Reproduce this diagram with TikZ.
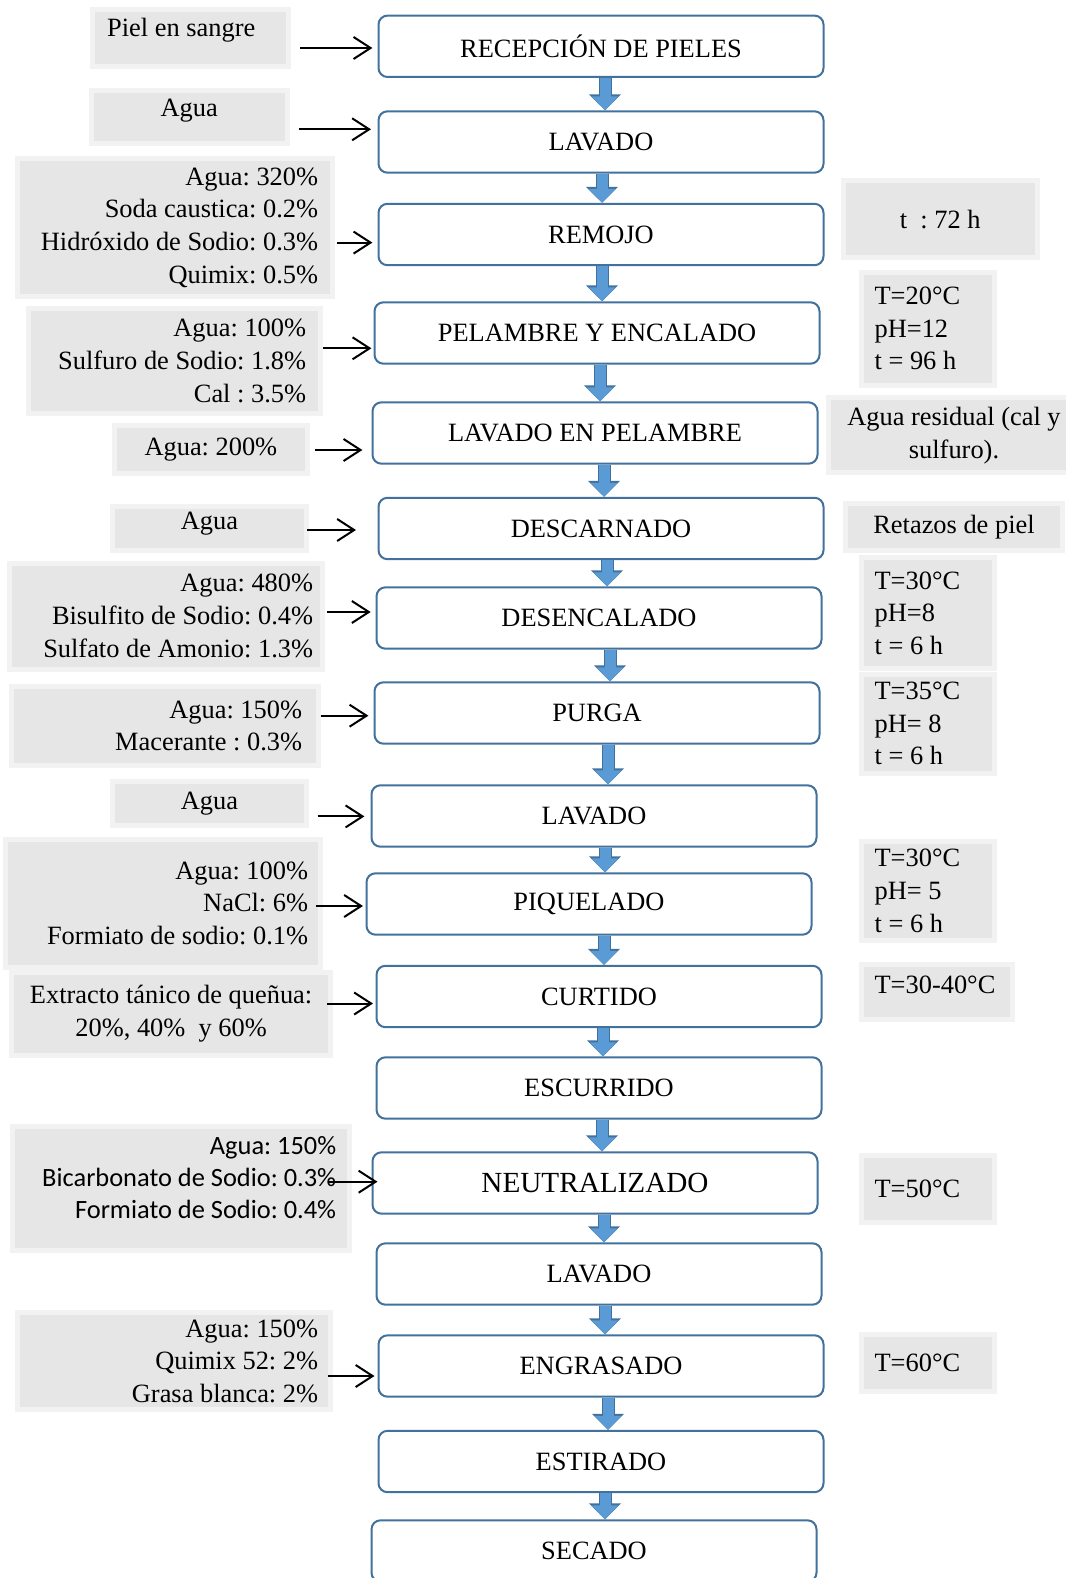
\documentclass[tikz,border=0pt]{standalone}
\usepackage{fontspec}
\setmainfont{Liberation Serif}
\newfontfamily\calibri{Carlito}
\usetikzlibrary{arrows.meta}
\definecolor{bordeazul}{HTML}{41719C}
\definecolor{azul}{HTML}{5B9BD5}
\definecolor{gris}{HTML}{E6E6E6}
\definecolor{grisclaro}{HTML}{F2F2F2}
\tikzset{
  etapa/.style={draw=bordeazul, line width=1pt, rounded corners=4.5pt, fill=white,
    minimum width=222.5pt, minimum height=30.7pt, inner sep=0pt,
    font=\fontsize{13.2}{16.3}\selectfont},
  gris/.style={fill=gris, inner ysep=0pt, preaction={draw=grisclaro, line width=5pt},
    font=\fontsize{13.2}{16.3}\selectfont\frenchspacing},
  insumo/.style={gris, align=flush right},
  cond/.style={gris, align=flush left, inner xsep=5.5pt},
  entra/.style={line width=1pt, -{Straight Barb[length=8.5pt,width=11pt]}},
  baja/.style={draw=azul, line width=5.5pt, -{Triangle[length=7pt,width=13pt]},
    preaction={draw=bordeazul, line width=6.5pt, -{Triangle[length=8pt,width=15.5pt]}}}
}
\begin{document}
\begin{tikzpicture}[x=0.5pt, y=-0.5pt]
  \useasboundingbox (0,0) rectangle (1065,1578);
  % etapas del proceso
  \node[etapa] (rec)  at (601,46.3)  {RECEPCIÓN DE PIELES};
  \node[etapa] (lav1) at (601,142)   {LAVADO};
  \node[etapa] (rem)  at (601,234.5) {REMOJO};
  \node[etapa] (pel)  at (597,333)   {PELAMBRE Y ENCALADO};
  \node[etapa] (lavp) at (595,433)   {LAVADO EN PELAMBRE};
  \node[etapa] (desc) at (601,528.5) {DESCARNADO};
  \node[etapa] (dese) at (599,618)   {DESENCALADO};
  \node[etapa] (pur)  at (597,713)   {PURGA};
  \node[etapa] (lav2) at (594,816)   {LAVADO};
  \node[etapa] (piq)  at (589,904)   {PIQUELADO};
  \node[etapa] (cur)  at (599,996.5) {CURTIDO};
  \node[etapa] (esc)  at (599,1088)  {ESCURRIDO};
  \node[etapa, font=\fontsize{14.6}{17}\selectfont] (neu) at (595,1183) {NEUTRALIZADO};
  \node[etapa] (lav3) at (599,1274)  {LAVADO};
  \node[etapa] (eng)  at (601,1366)  {ENGRASADO};
  \node[etapa] (est)  at (601,1461.5) {ESTIRADO};
  \node[etapa] (sec)  at (594,1551)  {SECADO};
  % flechas entre etapas
  \foreach \a/\b/\d in {rec/lav1/2pt, lav1/rem/0.5pt, rem/pel/0.5pt, pel/lavp/1.5pt,
      lavp/desc/4.5pt, desc/dese/3pt, dese/pur/5.5pt, pur/lav2/5.5pt, lav2/piq/5.5pt,
      piq/cur/7.5pt, cur/esc/2pt, esc/neu/1.5pt, neu/lav3/4.5pt, lav3/eng/3pt,
      eng/est/3.5pt, est/sec/2pt}
    \draw[baja] ([xshift=\d]\a.south) -- ([xshift=\d]\a.south |- \b.north);
  % insumos (izquierda)
  \node[gris, align=flush left, text width=83.5pt, inner xsep=6pt, minimum height=26pt,
        text depth=11pt] (ipiel) at (190.7,38.4) {Piel en sangre};
  \node[gris, align=flush center, text width=83.5pt, inner xsep=6pt, minimum height=24pt,
        text depth=9pt] (iagua1) at (189.2,116.8) {Agua};
  \node[insumo, text width=143pt, inner xsep=6pt, minimum height=66.5pt] (irem)
        at (175.1,227.5) {Agua: 320\%\\Soda caustica: 0.2\%\\Hidróxido de Sodio: 0.3\%\\Quimix: 0.5\%};
  \node[insumo, text width=131.5pt, inner xsep=6pt, minimum height=50pt] (ipel)
        at (174.6,360.9) {Agua: 100\%\\Sulfuro de Sodio: 1.8\%\\Cal : 3.5\%};
  \node[gris, align=flush center, text width=82pt, inner xsep=6pt, minimum height=21.5pt]
        (iagua2) at (210.9,449.4) {Agua: 200\%};
  \node[gris, align=flush center, text width=82.5pt, inner xsep=6pt, minimum height=19.5pt,
        text depth=7.5pt] (iagua3) at (209.4,528) {Agua};
  \node[insumo, text width=147pt, inner xsep=3.5pt, minimum height=50.5pt] (idese)
        at (166.1,616) {Agua: 480\%\\Bisulfito de Sodio: 0.4\%\\Sulfato de Amonio: 1.3\%};
  \node[insumo, text width=137pt, inner xsep=7pt, minimum height=37pt] (ipur)
        at (165.1,725.8) {Agua: 150\%\\Macerante : 0.3\%};
  \node[gris, align=flush center, text width=82.5pt, inner xsep=6pt, minimum height=19.5pt]
        (iagua4) at (209.4,803.8) {Agua};
  \node[insumo, text width=145pt, inner xsep=5pt, minimum height=61.5pt] (ipiq)
        at (163.1,903) {Agua: 100\%\\NaCl: 6\%\\Formiato de sodio: 0.1\%};
  \node[gris, align=flush center, text width=151pt, inner xsep=3pt, minimum height=39pt] (icur)
        at (171.1,1013.6) {Extracto tánico de queñua:\\20\%, 40\%\ \ y 60\%};
  \node[insumo, text width=155pt, inner xsep=5.5pt, minimum height=59.5pt, text depth=43.5pt,
        font=\calibri\fontsize{13.2}{16.1}\selectfont\frenchspacing] (ineu)
        at (181.2,1188.8) {Agua: 150\%\\Bicarbonato de Sodio: 0.3\%\\Formiato de Sodio: 0.4\%};
  \node[insumo, text width=144pt, inner xsep=5pt, minimum height=46.3pt] (ieng)
        at (174.1,1361) {Agua: 150\%\\Quimix 52: 2\%\\Grasa blanca: 2\%};
  % condiciones (derecha)
  \node[gris, align=flush center, text width=84.5pt, inner xsep=5pt, minimum height=36pt] (crem)
        at (940.2,219.4) {t\ \ : 72 h};
  \node[cond, text width=53pt, minimum height=54pt] (cpel)
        at (927.6,328.7) {T=20°C\\pH=12\\t = 96 h};
  \node[gris, align=flush center, text width=114pt, inner xsep=4.5pt, minimum height=35pt] (cres)
        at (954,435.4) {Agua residual (cal y\\sulfuro).};
  \node[gris, align=flush center, text width=96pt, inner xsep=5pt, minimum height=21pt] (cret)
        at (954,527) {Retazos de piel};
  \node[cond, text width=53pt, minimum height=53.3pt] (cdese)
        at (927.6,613) {T=30°C\\pH=8\\t = 6 h};
  \node[cond, text width=53pt, minimum height=47pt] (cpur)
        at (927.6,723.7) {T=35°C\\pH= 8\\t = 6 h};
  \node[cond, text width=53pt, minimum height=47pt] (cpiq)
        at (927.6,890.8) {T=30°C\\pH= 5\\t = 6 h};
  \node[cond, text width=62pt, minimum height=25pt, text depth=7pt] (ccur)
        at (936.6,991.5) {T=30-40°C};
  \node[cond, text width=53pt, minimum height=31pt] (cneu)
        at (927.6,1188.8) {T=50°C};
  \node[cond, text width=53pt, minimum height=26pt] (ceng)
        at (927.6,1363) {T=60°C};
  % puntas de las flechas de entrada
  \coordinate (t1) at (372.4,48);
  \coordinate (t2) at (371,129.3);
  \coordinate (t3) at (372.4,242.6);
  \coordinate (t4) at (371.4,348.3);
  \coordinate (t5) at (362.4,450);
  \coordinate (t6) at (356,530);
  \coordinate (t7) at (370.7,612);
  \coordinate (t8) at (368.4,715.7);
  \coordinate (t9) at (364.4,816.4);
  \coordinate (t10) at (363,906);
  \coordinate (t11) at (373,1003.5);
  \coordinate (t12) at (377.5,1181.7);
  \coordinate (t13) at (374.5,1376);
  % flechas de entrada
  \draw[entra, shorten <=6.9pt] (ipiel.east |- t1) -- (t1);
  \draw[entra, shorten <=7.1pt] (iagua1.east |- t2) -- (t2);
  \draw[entra, shorten <=3pt] (irem.east |- t3) -- (t3);
  \draw[entra, shorten <=2pt] (ipel.east |- t4) -- (t4);
  \draw[entra, shorten <=5pt] (iagua2.east |- t5) -- (t5);
  \draw[entra, shorten <=1.4pt] (iagua3.east |- t6) -- (t6);
  \draw[entra, shorten <=3.3pt] (idese.east |- t7) -- (t7);
  \draw[entra, shorten <=2pt] (ipur.east |- t8) -- (t8);
  \draw[entra, shorten <=6.6pt] (iagua4.east |- t9) -- (t9);
  \draw[entra, shorten <=-1.5pt] (ipiq.east |- t10) -- (t10);
  \draw[entra, shorten <=-0.7pt] (icur.east |- t11) -- (t11);
  \draw[entra, shorten <=-10pt] (ineu.east |- t12) -- (t12);
  \draw[entra, shorten <=-0.5pt] (ieng.east |- t13) -- (t13);
\end{tikzpicture}
\end{document}
